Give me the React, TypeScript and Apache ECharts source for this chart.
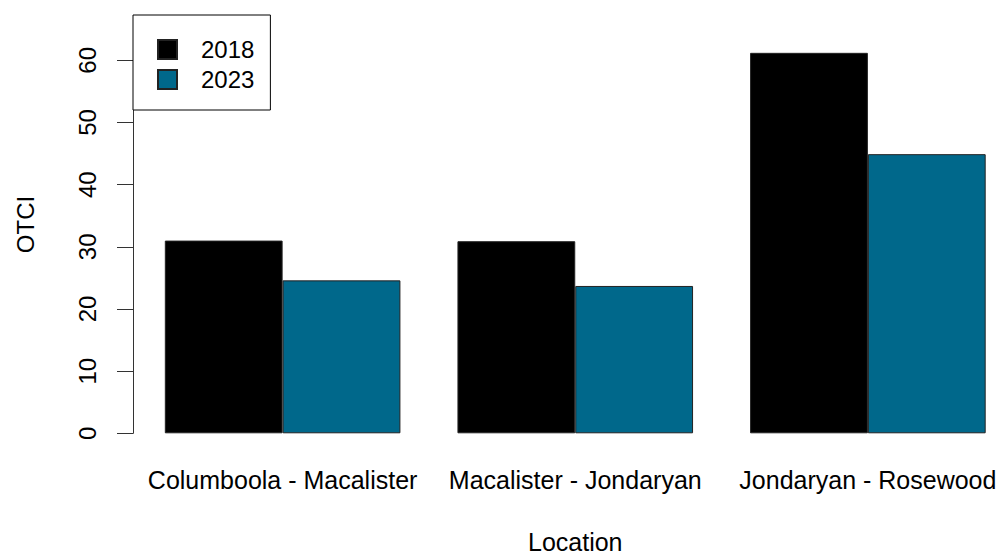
import React, { useEffect, useRef } from "react";
import * as echarts from "echarts";

// Location segments and OTCI per survey year
const locations = [
  "Columboola - Macalister",
  "Macalister - Jondaryan",
  "Jondaryan - Rosewood",
];
const years = ["2018", "2023"];
const otci2018 = [31.0, 30.9, 61.2];
const otci2023 = [24.6, 23.7, 44.9];
const yTicks = [0, 10, 20, 30, 40, 50, 60];

const FONT = '"Liberation Sans", Arial, Helvetica, sans-serif';
const INK = "#000000";
const AXIS = "#333333";
const COLORS = ["#000000", "#00688B"];

export default function App() {
  const ref = useRef<HTMLDivElement>(null);

  useEffect(() => {
    if (!ref.current) return;
    const chart = echarts.init(ref.current, undefined, { renderer: "svg" });

    const option: echarts.EChartsOption = {
      animation: false,
      backgroundColor: "#ffffff",
      grid: {
        left: 136.3,
        right: -14.2,
        top: 60.3,
        bottom: 121.7,
        containLabel: false,
        outerBoundsMode: "none",
      } as any,
      legend: {
        data: years,
        orient: "vertical",
        left: 133,
        top: 15,
        padding: [22.5, 16, 18.5, 24],
        itemWidth: 19,
        itemHeight: 19,
        itemGap: 6,
        icon: "rect",
        borderColor: "#000000",
        borderWidth: 1,
        backgroundColor: "#ffffff",
        textStyle: {
          fontFamily: FONT,
          fontSize: 24,
          color: INK,
          padding: [0, 0, 0, 19],
        },
      },
      xAxis: {
        type: "category",
        data: locations,
        axisLine: { show: false },
        axisTick: { show: false },
        splitLine: { show: false },
        axisLabel: {
          interval: 0,
          fontFamily: FONT,
          fontSize: 25,
          color: INK,
          margin: 34,
        },
        name: "Location",
        nameLocation: "middle",
        nameGap: 96,
        nameTextStyle: { fontFamily: FONT, fontSize: 25, color: INK },
      },
      yAxis: {
        type: "value",
        min: yTicks[0],
        max: yTicks[yTicks.length - 1],
        interval: 10,
        offset: 3.3,
        splitLine: { show: false },
        axisLine: { show: true, lineStyle: { color: AXIS, width: 1 } },
        axisTick: { show: true, length: 16, lineStyle: { color: AXIS, width: 1 } },
        axisLabel: {
          rotate: 90,
          fontFamily: FONT,
          fontSize: 24,
          color: INK,
          margin: 34,
        },
      },
      graphic: [
        {
          type: "text",
          x: 25,
          y: 224.5,
          rotation: Math.PI / 2,
          style: {
            text: "OTCI",
            fill: INK,
            font: `24px ${FONT}`,
            textAlign: "center",
            textVerticalAlign: "middle",
          },
        },
      ],
      series: [
        {
          name: years[0],
          type: "bar",
          data: otci2018,
          barWidth: 117.8,
          barGap: "0%",
          clip: false,
          itemStyle: { color: COLORS[0], borderColor: "#222222", borderWidth: 1 },
        },
        {
          name: years[1],
          type: "bar",
          data: otci2023,
          barWidth: 117.8,
          barGap: "0%",
          clip: false,
          itemStyle: { color: COLORS[1], borderColor: "#222222", borderWidth: 1 },
        },
      ],
    };

    chart.setOption(option);
    return () => chart.dispose();
  }, []);

  return (
    <div
      ref={ref}
      style={{ position: "fixed", left: 0, top: 0, width: 1000, height: 555, background: "#fff" }}
    />
  );
}
